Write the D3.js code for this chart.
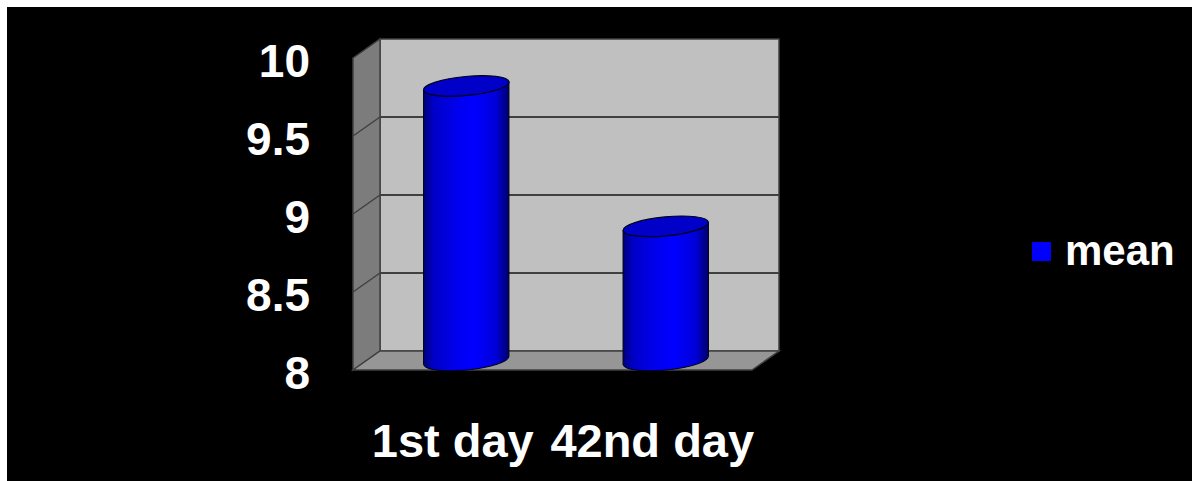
<!DOCTYPE html>
<html>
<head>
<meta charset="utf-8">
<script src="https://cdn.jsdelivr.net/npm/d3@7"></script>
<style>
  html, body { margin: 0; padding: 0; background: #fff; }
  svg { display: block; }
  text { font-family: Arial, "Liberation Sans", sans-serif; font-weight: bold; fill: #fff; }
</style>
</head>
<body>
<div id="chart"></div>
<script>
// Chart values
var categories = ['1st day', '42nd day'];
var meanValues = [9.76, 8.86];
var tickValues = [8, 8.5, 9, 9.5, 10];
var seriesName = 'mean';

var width = 1192, height = 481;

// front plane of the 3D box, and the depth offset to the back wall
var front = { left: 353, right: 752, top: 58, bottom: 370 };
var depth = { dx: 27, dy: -19 };

var svg = d3.select('#chart').append('svg')
  .attr('width', width)
  .attr('height', height);

// white frame on top/left, black page
svg.append('rect').attr('width', width).attr('height', height).attr('fill', '#fff');
svg.append('rect').attr('x', 7).attr('y', 7).attr('width', width - 7).attr('height', height - 7).attr('fill', '#000');

var y = d3.scaleLinear().domain([8, 10]).range([front.bottom, front.top]);
var x = d3.scaleBand().domain(categories).range([front.left, front.right]);

var defs = svg.append('defs');
var bodyGrad = defs.append('linearGradient').attr('id', 'cylBody')
  .attr('x1', '0%').attr('x2', '100%').attr('y1', '0%').attr('y2', '0%');
[[0, '#00007a'], [0.12, '#0000c8'], [0.45, '#0000f5'], [0.6, '#0000ff'], [0.85, '#0000d8'], [1, '#00006a']]
  .forEach(function (s) { bodyGrad.append('stop').attr('offset', s[0]).attr('stop-color', s[1]); });

var wallStroke = '#404040';

// walls
var box = svg.append('g').attr('class', 'walls');
var bx = front.left + depth.dx, by = function (v) { return y(v) + depth.dy; };

// back wall
box.append('rect')
  .attr('x', bx).attr('y', by(10))
  .attr('width', front.right - front.left).attr('height', by(8) - by(10))
  .attr('fill', '#c0c0c0').attr('stroke', wallStroke).attr('stroke-width', 1.5);

// left wall
box.append('polygon')
  .attr('points', [[front.left, y(10)], [bx, by(10)], [bx, by(8)], [front.left, y(8)]].join(' '))
  .attr('fill', '#7c7c7c').attr('stroke', wallStroke).attr('stroke-width', 1.5);

// floor
box.append('polygon')
  .attr('points', [[front.left, y(8)], [bx, by(8)], [front.right + depth.dx, by(8)], [front.right, y(8)]].join(' '))
  .attr('fill', '#969696').attr('stroke', wallStroke).attr('stroke-width', 1.5);

// gridlines on back wall and left wall
var grid = box.append('g').attr('class', 'grid');
tickValues.filter(function (v) { return v > 8 && v < 10; }).forEach(function (v) {
  grid.append('line')
    .attr('x1', bx).attr('x2', front.right + depth.dx)
    .attr('y1', by(v)).attr('y2', by(v))
    .attr('stroke', wallStroke).attr('stroke-width', 2);
  grid.append('line')
    .attr('x1', front.left).attr('x2', bx)
    .attr('y1', y(v)).attr('y2', by(v))
    .attr('stroke', wallStroke).attr('stroke-width', 1.5);
});

// cylinders
var rx = x.bandwidth() * 0.215, ry = 9.5, tilt = -5.5;
var tr = tilt * Math.PI / 180;
function endPoint(cx, cy, sign) {
  return [cx + sign * rx * Math.cos(tr), cy + sign * rx * Math.sin(tr)];
}

var bars = svg.append('g').attr('class', 'bars');
categories.forEach(function (c, i) {
  var cx = x(c) + x.bandwidth() / 2 + depth.dx / 2;
  var cyBottom = y(8) + depth.dy / 2;
  var cyTop = y(meanValues[i]) + depth.dy / 2;
  var lt = endPoint(cx, cyTop, -1), rt = endPoint(cx, cyTop, 1);
  var lb = endPoint(cx, cyBottom, -1), rb = endPoint(cx, cyBottom, 1);
  var g = bars.append('g');
  g.append('path')
    .attr('d', 'M' + lt + ' L' + lb +
      ' A' + rx + ',' + ry + ' ' + tilt + ' 0 0 ' + rb +
      ' L' + rt +
      ' A' + rx + ',' + ry + ' ' + tilt + ' 0 1 ' + lt + ' Z')
    .attr('fill', 'url(#cylBody)')
    .attr('stroke', '#000018').attr('stroke-width', 1);
  g.append('ellipse')
    .attr('cx', 0).attr('cy', 0).attr('rx', rx).attr('ry', ry)
    .attr('transform', 'translate(' + cx + ',' + cyTop + ') rotate(' + tilt + ')')
    .attr('fill', '#0000c8')
    .attr('stroke', '#000018').attr('stroke-width', 1.2);
});

// value axis labels
svg.append('g').attr('class', 'y-ticks')
  .selectAll('text')
  .data(tickValues)
  .join('text')
  .attr('x', 310)
  .attr('y', function (d) { return y(d) + 19; })
  .attr('text-anchor', 'end')
  .attr('font-size', 46)
  .text(function (d) { return d3.format('~g')(d); });

// category labels
svg.append('g').attr('class', 'x-ticks')
  .selectAll('text')
  .data(categories)
  .join('text')
  .attr('x', function (d) { return x(d) + x.bandwidth() / 2; })
  .attr('y', 457)
  .attr('text-anchor', 'middle')
  .attr('font-size', 47)
  .text(function (d) { return d; });

// legend
var legend = svg.append('g').attr('class', 'legend');
legend.append('rect')
  .attr('x', 1032).attr('y', 242).attr('width', 19).attr('height', 19)
  .attr('fill', '#0000ff');
legend.append('text')
  .attr('x', 1065).attr('y', 265)
  .attr('font-size', 42)
  .text(seriesName);
</script>
</body>
</html>
